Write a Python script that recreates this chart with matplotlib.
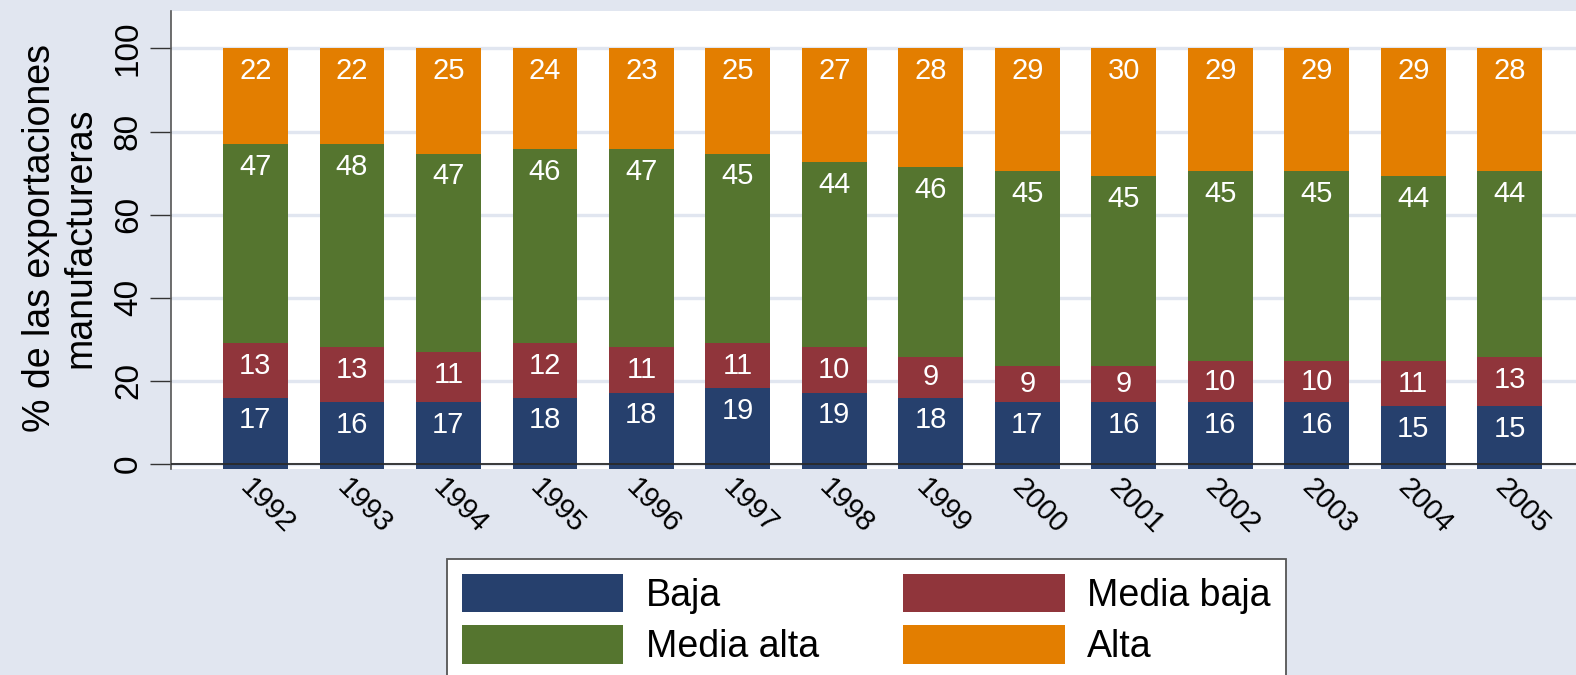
import matplotlib
matplotlib.use("Agg")
import matplotlib.pyplot as plt
import matplotlib.transforms as mtransforms
from matplotlib.patches import Patch
import numpy as np

plt.rcParams['font.family'] = ['Liberation Sans', 'DejaVu Sans']

# ---- data ----
years = ["1992", "1993", "1994", "1995", "1996", "1997", "1998",
         "1999", "2000", "2001", "2002", "2003", "2004", "2005"]
series_names = ["Baja", "Media baja", "Media alta", "Alta"]

# segment heights as drawn
baja_h       = [17.1, 16.0, 16.0, 17.1, 18.3, 19.4, 18.3, 17.1, 16.0, 16.0, 16.0, 16.0, 15.0, 15.0]
media_baja_h = [13.0, 13.2, 12.0, 13.0, 10.9, 10.7, 10.9,  9.7,  8.7,  8.7,  9.8,  9.8, 10.8, 11.8]
media_alta_h = [47.9, 48.8, 47.8, 46.8, 47.7, 45.7, 44.5, 45.8, 46.8, 45.7, 45.7, 45.7, 44.6, 44.7]
alta_h       = [23.1, 23.1, 25.3, 24.2, 24.2, 25.3, 27.4, 28.5, 29.6, 30.7, 29.6, 29.6, 30.7, 29.6]

# printed labels
baja_lab       = [17, 16, 17, 18, 18, 19, 19, 18, 17, 16, 16, 16, 15, 15]
media_baja_lab = [13, 13, 11, 12, 11, 11, 10, 9, 9, 9, 10, 10, 11, 13]
media_alta_lab = [47, 48, 47, 46, 47, 45, 44, 46, 45, 45, 45, 45, 44, 44]
alta_lab       = [22, 22, 25, 24, 23, 25, 27, 28, 29, 30, 29, 29, 29, 28]

yticks = [0, 20, 40, 60, 80, 100]
ylabel = "% de las exportaciones\nmanufactureras"

# ---- style ----
colors = ["#26406D", "#90353B", "#55752F", "#E37E00"]
bg = "#E1E6F0"
BAR_BASE = -1.1

W, H, DPI = 1576, 675, 100
fig = plt.figure(figsize=(W / DPI, H / DPI), dpi=DPI, facecolor=bg)
ax = fig.add_axes([171 / W, 1 - 469 / H, (W - 171) / W, (469 - 11) / H])
ax.set_facecolor("white")

x = np.arange(len(years))
heights = [baja_h, media_baja_h, media_alta_h, alta_h]
labels = [baja_lab, media_baja_lab, media_alta_lab, alta_lab]

bottom = np.full(len(years), BAR_BASE)
for h, lab, c, name in zip(heights, labels, colors, series_names):
    h = np.array(h)
    ax.bar(x, h, bottom=bottom, width=0.67, color=c, zorder=2, label=name,
           linewidth=0)
    tops = bottom + h
    for xi, t, hi, l in zip(x, tops, h, lab):
        off = min(5.5, hi / 2)
        ax.text(xi, t - off, str(l), ha="center", va="center", color="white",
                fontsize=21, zorder=5)
    bottom = tops

ax.set_ylim(-1.2, 109)
ax.set_xlim(-0.874, 13.686)

for yv in yticks:
    ax.axhline(yv, color=bg, linewidth=2.4, zorder=1)
ax.axhline(0, color="#2a2a2a", linewidth=1.3, zorder=4)

ax.set_yticks(yticks)
ax.set_yticklabels([str(v) for v in yticks], rotation=90, va="center")
ax.tick_params(axis="y", length=15, width=1, color="#333333", pad=4.5,
               labelsize=24)

ax.set_xticks(x)
ax.set_xticklabels(years, rotation=-45, ha="left", va="top",
                   rotation_mode="anchor", fontsize=21)
ax.tick_params(axis="x", length=0, pad=3.5)
offset = mtransforms.ScaledTranslation(-1 / DPI, 0, fig.dpi_scale_trans)
for lbl in ax.get_xticklabels():
    lbl.set_transform(lbl.get_transform() + offset)

for s in ["top", "right", "bottom"]:
    ax.spines[s].set_visible(False)
ax.spines["left"].set_color("#555555")
ax.spines["left"].set_linewidth(1.2)

fig.text(60 / W, 1 - 238 / H, ylabel, rotation=90, ha="center", va="center",
         fontsize=27, linespacing=1.15, multialignment="center")

# legend filled row-wise: Baja, Media baja / Media alta, Alta
order = [0, 2, 1, 3]
handles = [Patch(facecolor=colors[i], edgecolor="none") for i in order]
names = [series_names[i] for i in order]
leg = fig.legend(handles, names, ncol=2, loc="upper left",
                 bbox_to_anchor=(447 / W, 1 - 559 / H),
                 fontsize=27, frameon=True, fancybox=False, framealpha=1,
                 handlelength=4.3, handleheight=1.2, handletextpad=0.6,
                 columnspacing=2.25, labelspacing=0.3, borderpad=0.4,
                 borderaxespad=0)
leg.get_frame().set_edgecolor("#555555")
leg.get_frame().set_linewidth(1.3)
leg.get_frame().set_facecolor("white")

fig.savefig("out.png", dpi=DPI, facecolor=bg)
